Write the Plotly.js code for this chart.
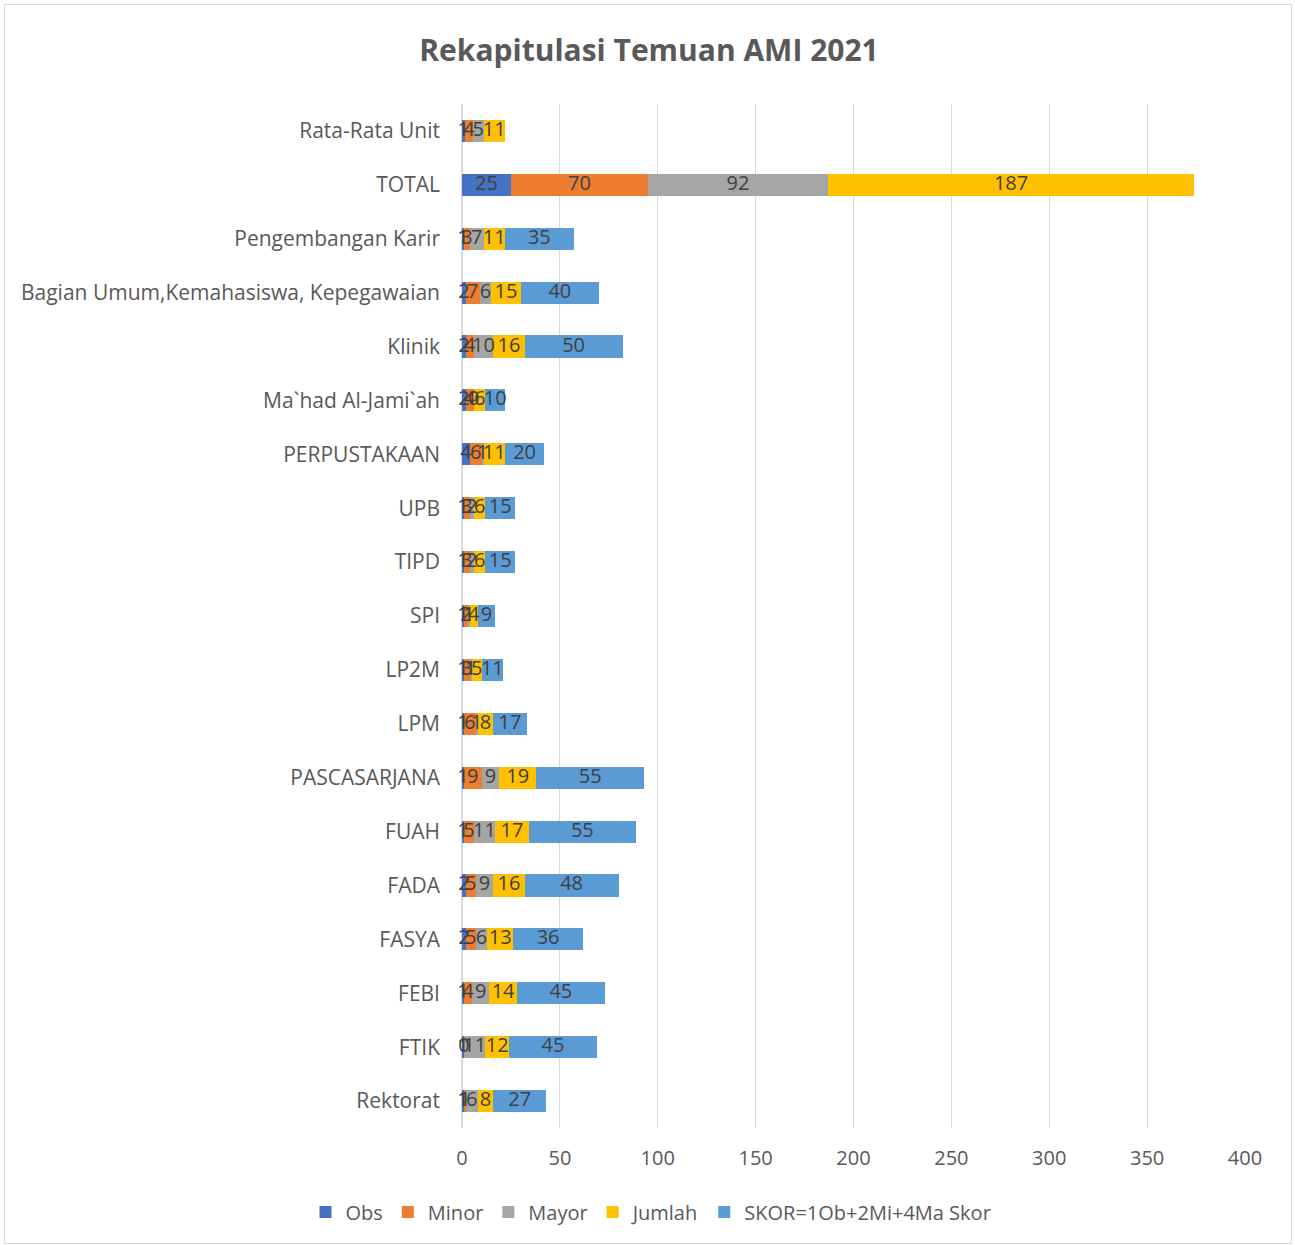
<!DOCTYPE html>
<html>
<head>
<meta charset="utf-8">
<script src="https://cdn.plot.ly/plotly-3.0.1.min.js"></script>
<style>
body{margin:0;padding:0;background:#fff;}
#chart{width:1295px;height:1245px;position:absolute;left:0;top:0;}
#frame{position:absolute;left:4px;top:4px;width:1286px;height:1238px;border:1px solid #d9d9d9;pointer-events:none;}
</style>
</head>
<body>
<div id="chart"></div>
<div id="frame"></div>
<script>
const categories = ["Rektorat","FTIK","FEBI","FASYA","FADA","FUAH","PASCASARJANA","LPM","LP2M","SPI","TIPD","UPB","PERPUSTAKAAN","Ma`had Al-Jami`ah","Klinik","Bagian Umum,Kemahasiswa, Kepegawaian","Pengembangan Karir","TOTAL","Rata-Rata Unit"];
const obs    = [1, 1, 1, 2, 2, 1, 1, 1, 1, 1, 1, 1, 4, 2, 2, 2, 1, 25, 1.47];
const minor  = [1, 0, 4, 5, 5, 5, 9, 6, 3, 2, 3, 3, 6, 4, 4, 7, 3, 70, 4.12];
const mayor  = [6, 11, 9, 6, 9, 11, 9, 1, 1, 1, 2, 2, 1, 0, 10, 6, 7, 92, 5.41];
const jumlah = [8, 12, 14, 13, 16, 17, 19, 8, 5, 4, 6, 6, 11, 6, 16, 15, 11, 187, 11];
const skor   = [27, 45, 45, 36, 48, 55, 55, 17, 11, 9, 15, 15, 20, 10, 50, 40, 35, null, null];
const seriesNames = ["Obs","Minor","Mayor","Jumlah","SKOR=1Ob+2Mi+4Ma Skor"];
const seriesColors = ["#4472C4","#ED7D31","#A5A5A5","#FFC000","#5B9BD5"];
const xTicks = [0,50,100,150,200,250,300,350,400];

const FONT = "Open Sans, Noto Sans, sans-serif";
const all = [obs, minor, mayor, jumlah, skor];

const barTraces = all.map((vals, i) => ({
  type: "bar",
  orientation: "h",
  name: seriesNames[i],
  y: categories,
  x: vals,
  marker: {color: seriesColors[i]},
  hoverinfo: "x+name"
}));

// data labels drawn above all bars, centred in each stacked segment
const base = categories.map(() => 0);
const labelTraces = all.map((vals, i) => {
  const xs = [], ys = [], ts = [];
  vals.forEach((v, k) => {
    if (v === null) return;
    xs.push(base[k] + v / 2);
    ys.push(categories[k]);
    ts.push(String(Math.round(v)));
    base[k] += v;
  });
  return {
    type: "scatter",
    mode: "text",
    x: xs, y: ys, text: ts,
    textposition: "middle center",
    textfont: {family: FONT, size: 20, color: "#404040"},
    showlegend: false,
    hoverinfo: "skip",
    cliponaxis: false
  };
});

const layout = {
  width: 1295,
  height: 1245,
  barmode: "stack",
  bargap: 0.59,
  margin: {l: 462, r: 50, t: 104, b: 117},
  paper_bgcolor: "#ffffff",
  plot_bgcolor: "#ffffff",
  font: {family: FONT, color: "#595959", size: 20},
  title: {
    text: "<b>Rekapitulasi Temuan AMI 2021</b>",
    font: {family: FONT, size: 30, color: "#595959"},
    x: 649 / 1295, xanchor: "center", xref: "container",
    y: 1 - 50/1245, yanchor: "middle", yref: "container"
  },
  xaxis: {
    range: [0, 400],
    tickvals: xTicks,
    ticktext: xTicks.map(String),
    showgrid: true,
    gridcolor: "#d9d9d9",
    gridwidth: 1,
    zeroline: true,
    zerolinecolor: "#d9d9d9",
    zerolinewidth: 2,
    showline: false,
    ticks: "",
    ticklabelstandoff: 16,
    tickfont: {family: FONT, size: 20, color: "#595959"},
    fixedrange: true
  },
  yaxis: {
    type: "category",
    categoryorder: "array",
    categoryarray: categories,
    range: [-0.5, categories.length - 0.5],
    showgrid: false,
    zeroline: false,
    showline: false,
    ticks: "",
    ticklabelstandoff: 21,
    tickfont: {family: FONT, size: 21, color: "#595959"},
    automargin: false,
    fixedrange: true
  },
  showlegend: true,
  legend: {
    orientation: "h",
    x: (651 - 462) / 783,
    xanchor: "center",
    y: -84 / 1024,
    yanchor: "middle",
    font: {family: FONT, size: 20, color: "#595959"},
    traceorder: "normal",
    itemwidth: 30
  }
};

Plotly.newPlot("chart", barTraces.concat(labelTraces), layout, {displayModeBar: false, staticPlot: true});
</script>
</body>
</html>
